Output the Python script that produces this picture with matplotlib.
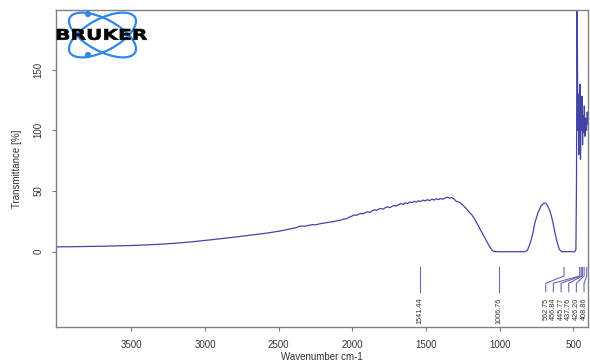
import matplotlib
matplotlib.use("Agg")
import matplotlib.pyplot as plt
import numpy as np
from matplotlib.patches import Ellipse, Circle, PathPatch
from matplotlib.textpath import TextPath
from matplotlib.font_manager import FontProperties
from matplotlib.transforms import Affine2D

plt.rcParams['font.family'] = ['Liberation Sans', 'DejaVu Sans']

# ---- data ----
wavenumber = [4010, 3900, 3800, 3700, 3600, 3500, 3400, 3300, 3200, 3100, 3000,
              2900, 2800, 2700, 2600, 2500,
              2400, 2380, 2360, 2340, 2320, 2300, 2270, 2250, 2220, 2190, 2160,
              2130, 2100, 2080, 2060, 2040, 2020, 2000, 1985, 1970, 1955, 1940,
              1925, 1910, 1895, 1880, 1865, 1850, 1835, 1820, 1805, 1790, 1775,
              1760, 1745, 1730, 1715, 1700, 1685, 1670, 1655, 1640, 1625, 1610,
              1595, 1580, 1565, 1550, 1535, 1520, 1505, 1490, 1475, 1460, 1445,
              1430, 1415, 1400, 1385, 1370, 1355, 1340, 1325, 1310, 1295, 1280,
              1268, 1250, 1230, 1210, 1190, 1170, 1150, 1130, 1112, 1090, 1070,
              1050, 1040, 1000, 950, 900, 860, 828, 810, 790, 775, 760, 740,
              720, 700, 687, 675, 660, 650, 638, 625, 610, 595, 579, 560, 540, 520,
              504, 490, 482, 478, 475, 472, 469, 466, 463, 460, 457, 454, 451, 448,
              445, 441, 437, 433, 429, 425, 420, 415, 410, 405, 400]
transmittance = [4.0, 4.1, 4.3, 4.5, 4.8, 5.1, 5.6, 6.2, 7.0, 8.0, 9.3,
                 10.6, 12.0, 13.5, 15.0, 16.8,
                 19.3, 19.8, 20.8, 21.2, 21.0, 21.6, 22.3, 22.1, 23.0, 23.6, 24.2,
                 24.7, 25.6, 26.0, 26.8, 27.2, 28.5, 29.5, 30.2, 30.0, 31.0, 31.5,
                 31.2, 32.3, 32.8, 32.4, 33.6, 34.5, 34.0, 35.2, 35.6, 35.0, 36.4,
                 36.9, 36.2, 37.4, 38.0, 37.6, 38.8, 39.6, 38.9, 40.2, 39.7, 40.9,
                 40.4, 41.5, 40.8, 42.0, 41.2, 42.5, 41.8, 42.9, 42.0, 43.3, 42.5,
                 43.6, 42.9, 43.8, 43.2, 44.3, 44.9, 44.0, 44.6, 43.4, 41.5, 41.0,
                 40.2, 38.3, 36.0, 33.0, 30.5, 27.0, 22.5, 18.0, 14.0, 9.0, 4.5,
                 1.0, 0.2, 0.0, 0.0, 0.0, 0.0, 0.0, 1.5, 8.0, 15.0, 24.0, 32.0,
                 37.5, 40.0, 40.0, 38.0, 34.0, 30.0, 24.0, 16.0, 8.0, 2.0, 0.0, 0.0, 0.0,
                 0.0, 0.0, 0.0, 2.0, 60.0, 205.0, 170.0, 100.0, 125.0, 80.0, 130.0,
                 95.0, 138.0, 76.0, 120.0, 100.0, 128.0, 88.0, 112.0, 98.0, 120.0,
                 95.0, 110.0, 100.0, 115.0, 105.0]

peak_wn = [1541.44, 1006.76, 562.75, 456.84, 445.77, 437.76, 426.20, 408.86]
peak_labels = ["1541.44", "1006.76", "562.75", "456.84", "445.77", "437.76",
               "426.20", "408.86"]

xticks = [3500, 3000, 2500, 2000, 1500, 1000, 500]
yticks = [0, 50, 100, 150]

# ---- figure ----
W, H = 590, 363
fig = plt.figure(figsize=(W / 100, H / 100), dpi=100)
L, R, T, B = 56, 588, 10, 327
ax = fig.add_axes([L / W, 1 - B / H, (R - L) / W, (B - T) / H])

line_col = '#4444a4'
ax.plot(wavenumber, transmittance, color=line_col, lw=0.9)

ax.set_xlim(4012, 400)
ax.set_ylim(-62, 199)
ax.set_xticks(xticks)
ax.set_yticks(yticks)
ax.tick_params(axis='both', length=3, width=0.8, color='#777777',
               labelsize=7, labelcolor='#333333', pad=6)
for lab in ax.get_yticklabels():
    lab.set_rotation(90)
    lab.set_va('center')
for s in ax.spines.values():
    s.set_color('#808080')
    s.set_linewidth(1.0)
ax.set_xlabel('Wavenumber cm-1', fontsize=7, color='#333333', labelpad=2)
ax.set_ylabel('Transmittance [%]', fontsize=7, color='#333333', labelpad=8)

# ---- peak labels (spread overlapping labels) ----
order = np.argsort(peak_wn)
min_sep = 52.0
right_limit = 427.0
label_pos = {}
prev = None
for i in order:
    p = peak_wn[i]
    pos = max(p, right_limit) if prev is None else max(p, prev + min_sep)
    label_pos[i] = pos
    prev = pos

lab_col = '#6868b8'
for i, p in enumerate(peak_wn):
    pos = label_pos[i]
    ax.plot([p, p, pos, pos], [-13, -20, -26, -33], color=lab_col, lw=0.8)
    ax.text(pos, -38, peak_labels[i], rotation=90, ha='center', va='top',
            fontsize=5.2, color='#333333')

# ---- Bruker logo (pixel overlay) ----
ov = fig.add_axes([0, 0, 1, 1])
ov.set_xlim(0, W)
ov.set_ylim(H, 0)
ov.axis('off')
ov.patch.set_alpha(0)
blue = '#3088ea'
cx, cy = 102.5, 35
for ang in (28, -28):
    ov.add_patch(Ellipse((cx, cy), 74, 32, angle=ang, fill=False,
                         edgecolor=blue, lw=1.6))
for (dx, dy) in [(88, 14), (88, 55)]:
    ov.add_patch(Circle((dx, dy), 2.4, color=blue))

tp = TextPath((0, 0), "BRUKER", size=1,
              prop=FontProperties(family='DejaVu Sans', weight='heavy'))
ext = tp.get_extents()
x0, y0, x1, y1 = 57, 29, 147, 40
sx = (x1 - x0) / ext.width
sy = (y1 - y0) / ext.height
tr = Affine2D().translate(-ext.x0, -ext.y0).scale(sx, -sy).translate(x0, y1)
ov.add_patch(PathPatch(tr.transform_path(tp), facecolor='black',
                       edgecolor='black', lw=0.4))

fig.savefig('out.png', dpi=100)
